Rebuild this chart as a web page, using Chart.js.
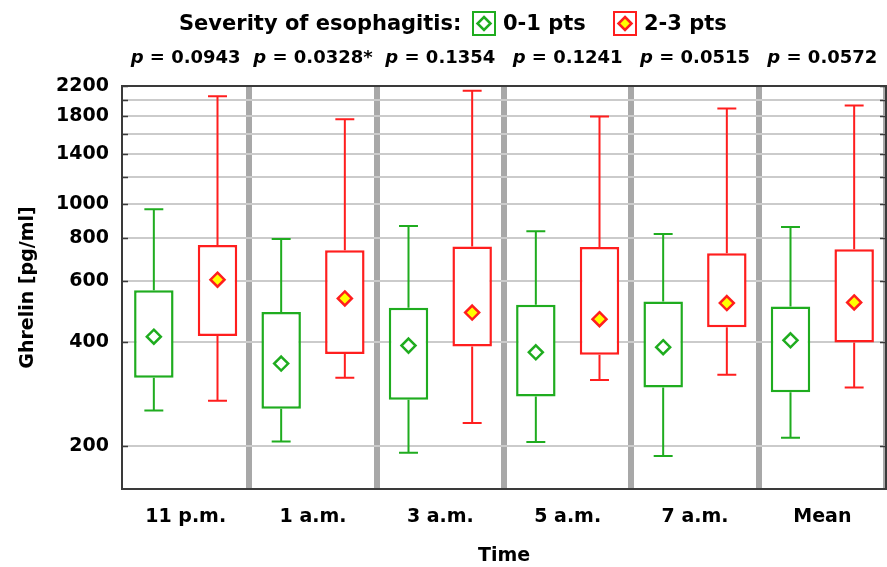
<!DOCTYPE html>
<html>
<head>
<meta charset="utf-8">
<script src="https://cdn.jsdelivr.net/npm/chart.js@4.4.1/dist/chart.umd.min.js"></script>
<style>
  html, body { margin: 0; padding: 0; background: #fff; }
  #wrap { width: 887px; height: 567px; }
</style>
</head>
<body>
<div id="wrap"><canvas id="ghrelinChart"></canvas></div>
<script>
// categories (time points) and p-values above each group
const times = ['11 p.m.', '1 a.m.', '3 a.m.', '5 a.m.', '7 a.m.', 'Mean'];
const pValues = ['0.0943', '0.0328*', '0.1354', '0.1241', '0.0515', '0.0572'];

// severity 0-1 pts (green)
const lowMin  = [253, 206, 191, 205, 187, 211];
const lowQ1   = [315, 256, 272, 278, 295, 286];
const lowQ3   = [564, 488, 502, 512, 523, 506];
const lowMax  = [968, 794, 866, 836, 821, 859];
const lowMean = [414, 346, 390, 373, 386, 404];

// severity 2-3 pts (red)
const highMin  = [270, 315, 233, 310, 321, 295];
const highQ1   = [416, 369, 388, 367, 441, 398];
const highQ3   = [763, 736, 755, 753, 722, 741];
const highMax  = [2056, 1763, 2131, 1795, 1893, 1932];
const highMean = [605, 534, 486, 465, 518, 520];

// y axis ticks
const yTicks = [200, 400, 600, 800, 1000, 1200, 1400, 1600, 1800, 2000, 2200];
const yLabeled = [200, 400, 600, 800, 1000, 1400, 1800, 2200];

const GREEN = '#1fac1f';
const RED = '#ff1e1e';
const YELLOW = '#ffff00';
const FONT = "'DejaVu Sans', sans-serif";

Chart.defaults.font.family = FONT;
Chart.defaults.color = '#000';

const groups = [
  { min: lowMin, max: lowMax, mean: lowMean, color: GREEN, fill: '#ffffff' },
  { min: highMin, max: highMax, mean: highMean, color: RED, fill: YELLOW }
];

function diamond(ctx, x, y, r, stroke, fill) {
  ctx.save();
  ctx.beginPath();
  ctx.moveTo(x, y - r);
  ctx.lineTo(x + r, y);
  ctx.lineTo(x, y + r);
  ctx.lineTo(x - r, y);
  ctx.closePath();
  ctx.fillStyle = fill;
  ctx.fill();
  ctx.lineWidth = 2.5;
  ctx.strokeStyle = stroke;
  ctx.stroke();
  ctx.restore();
}

// whiskers, means, frame, header texts
const boxExtras = {
  id: 'boxExtras',
  afterDatasetsDraw(chart) {
    const ctx = chart.ctx;
    const y = chart.scales.y;
    groups.forEach((g, i) => {
      const meta = chart.getDatasetMeta(i);
      meta.data.forEach((bar, j) => {
        const x = bar.x;
        const cap = bar.width * 0.48;
        const top = Math.min(bar.y, bar.base);
        const bottom = Math.max(bar.y, bar.base);
        const yMax = y.getPixelForValue(g.max[j]);
        const yMin = y.getPixelForValue(g.min[j]);
        ctx.save();
        ctx.strokeStyle = g.color;
        ctx.lineWidth = 2;
        ctx.beginPath();
        ctx.moveTo(x, top); ctx.lineTo(x, yMax);
        ctx.moveTo(x - cap / 2, yMax); ctx.lineTo(x + cap / 2, yMax);
        ctx.moveTo(x, bottom); ctx.lineTo(x, yMin);
        ctx.moveTo(x - cap / 2, yMin); ctx.lineTo(x + cap / 2, yMin);
        ctx.stroke();
        ctx.restore();
        diamond(ctx, x, y.getPixelForValue(g.mean[j]), 7, g.color, g.fill);
      });
    });
  },
  afterDraw(chart) {
    const ctx = chart.ctx;
    const a = chart.chartArea;
    const y = chart.scales.y;
    const x = chart.scales.x;

    // frame + inward tick marks
    ctx.save();
    ctx.strokeStyle = '#3a3a3a';
    ctx.lineWidth = 2;
    ctx.strokeRect(a.left, a.top, a.right - a.left, a.bottom - a.top);
    ctx.lineWidth = 1.5;
    ctx.beginPath();
    yTicks.forEach(v => {
      const py = Math.round(y.getPixelForValue(v)) + 0.5;
      ctx.moveTo(a.left, py); ctx.lineTo(a.left + 6, py);
      ctx.moveTo(a.right, py); ctx.lineTo(a.right - 6, py);
    });
    ctx.stroke();
    ctx.restore();

    // p-values
    ctx.save();
    ctx.fillStyle = '#000';
    ctx.textBaseline = 'alphabetic';
    pValues.forEach((p, i) => {
      const cx = x.getPixelForValue(i);
      const italic = 'italic bold 18px ' + FONT;
      const bold = 'bold 18px ' + FONT;
      ctx.font = italic;
      const w1 = ctx.measureText('p').width;
      ctx.font = bold;
      const rest = ' = ' + p;
      const w2 = ctx.measureText(rest).width;
      const left = cx - (w1 + w2) / 2;
      ctx.font = italic;
      ctx.fillText('p', left, 63);
      ctx.font = bold;
      ctx.fillText(rest, left + w1, 63);
    });

    // legend line
    ctx.font = 'bold 21px ' + FONT;
    ctx.fillText('Severity of esophagitis:', 179, 30);
    const items = [
      { box: 473, text: '0-1 pts', g: groups[0] },
      { box: 614, text: '2-3 pts', g: groups[1] }
    ];
    items.forEach(it => {
      ctx.save();
      ctx.strokeStyle = it.g.color;
      ctx.lineWidth = 2;
      ctx.strokeRect(it.box, 12, 22, 23);
      ctx.restore();
      diamond(ctx, it.box + 11, 23.5, 6.5, it.g.color, it.g.fill);
      ctx.fillStyle = '#000';
      ctx.fillText(it.text, it.box + 30, 30);
    });
    ctx.restore();
  }
};

const boxData = (q1, q3) => q1.map((v, i) => [v, q3[i]]);

const ChartG = document.getElementById('ghrelinChart');
const ghrelinChart = new Chart(ChartG, {
  type: 'bar',
  data: {
    labels: times,
    datasets: [{
      label: '0-1 pts',
      data: boxData(lowQ1, lowQ3),
      backgroundColor: '#ffffff',
      borderColor: GREEN,
      borderWidth: 2.5,
      borderSkipped: false,
      categoryPercentage: 1,
      barPercentage: 0.62
    },
    {
      label: '2-3 pts',
      data: boxData(highQ1, highQ3),
      backgroundColor: '#ffffff',
      borderColor: RED,
      borderWidth: 2.5,
      borderSkipped: false,
      categoryPercentage: 1,
      barPercentage: 0.62
    }]
  },
  options: {
    responsive: true,
    maintainAspectRatio: false,
    animation: false,
    layout: { padding: { top: 86, right: 1, left: 0, bottom: 0 } },
    scales: {
      x: {
        afterFit: s => { s.height = 78; },
        grid: {
          offset: true,
          drawTicks: false,
          color: '#a8a8a8',
          lineWidth: c => (c.index === 0 || c.index === times.length) ? 0 : 6
        },
        border: { display: false },
        ticks: { padding: 17, font: { size: 19, weight: 'bold' }, color: '#000' },
        title: {
          display: true,
          text: 'Time',
          font: { size: 19, weight: 'bold' },
          color: '#000',
          padding: { top: 0, bottom: 0 }
        }
      },
      y: {
        type: 'logarithmic',
        min: 150,
        max: 2200,
        afterFit: s => { s.width = 122; },
        afterBuildTicks: s => { s.ticks = yTicks.map(v => ({ value: v })); },
        grid: {
          drawTicks: false,
          color: c => c.tick && c.tick.value === 2200 ? 'rgba(0,0,0,0)' : '#cbcbcb',
          lineWidth: 2
        },
        border: { display: false },
        ticks: {
          padding: 13,
          autoSkip: false,
          font: { size: 19, weight: 'bold' },
          color: '#000',
          callback: v => yLabeled.includes(v) ? String(v) : ''
        },
        title: {
          display: true,
          text: 'Ghrelin [pg/ml]',
          font: { size: 19, weight: 'bold' },
          color: '#000',
          padding: { top: 17, bottom: 0 }
        }
      }
    },
    plugins: {
      legend: { display: false },
      tooltip: { enabled: false }
    }
  },
  plugins: [boxExtras]
});
</script>
</body>
</html>
